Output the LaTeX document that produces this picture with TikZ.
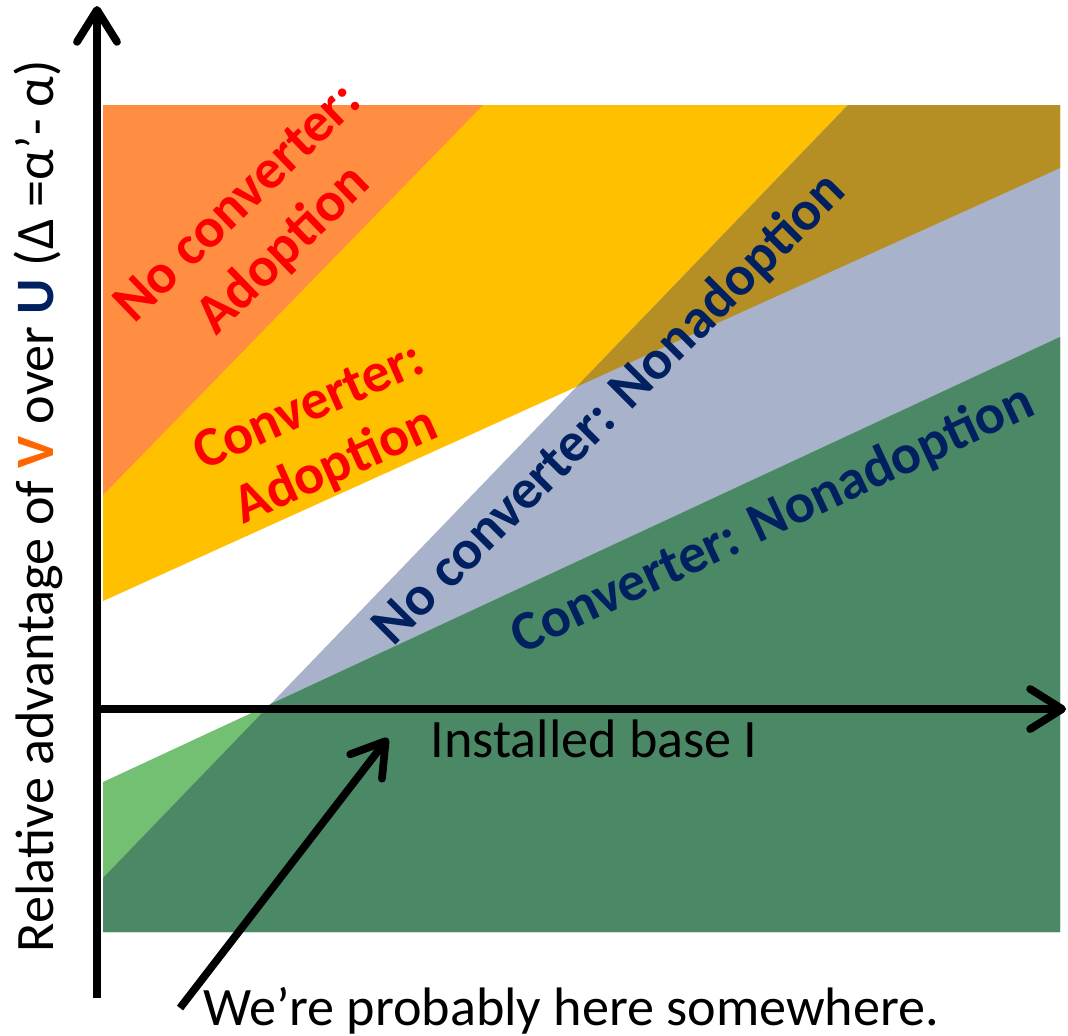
\documentclass[tikz,border=0pt]{standalone}
\usepackage{fontspec}
\setmainfont{Carlito}
\usetikzlibrary{arrows.meta}
\definecolor{noadopt}{RGB}{255,142,66}
\definecolor{adopt}{RGB}{255,192,0}
\definecolor{overlap}{RGB}{181,142,36}
\definecolor{nononadopt}{RGB}{168,178,202}
\definecolor{lightnon}{RGB}{115,192,115}
\definecolor{darknon}{RGB}{74,136,102}
\definecolor{redtext}{RGB}{255,0,0}
\definecolor{navytext}{RGB}{0,32,96}
\definecolor{vorange}{RGB}{255,102,0}
\tikzset{
  every node/.style={inner sep=0pt, font=\fontsize{15.4pt}{18.5pt}\selectfont},
  region/.style={bold, align=center},
  bold/.style={font=\fontsize{15.9pt}{18.6pt}\selectfont\bfseries},
  axis/.style={line width=2.2pt, -{Straight Barb[length=3.2mm,width=4mm,round]}},
}
\begin{document}
\begin{tikzpicture}[x=0.01cm, y=-0.01cm]
\useasboundingbox (0,0) rectangle (1068,1035);
% corners of the plot area
\coordinate (tl) at (103,105);
\coordinate (tr) at (1060,105);
\coordinate (bl) at (103,932);
\coordinate (br) at (1060,932);
% boundary lines
\coordinate (l1a) at (103,495);  \coordinate (l1b) at (483,105);
\coordinate (l2a) at (103,601);  \coordinate (l2b) at (1060,168);
\coordinate (l3a) at (103,878);  \coordinate (l3b) at (848,105);
\coordinate (l4a) at (103,782);  \coordinate (l4b) at (1060,337);
\coordinate (x23) at (intersection of l2a--l2b and l3a--l3b);
\coordinate (x34) at (intersection of l3a--l3b and l4a--l4b);

\fill[adopt] (tl) -- (tr) -- (l2b) -- (l2a) -- cycle;
\fill[noadopt] (tl) -- (l1b) -- (l1a) -- cycle;
\fill[nononadopt] (l3b) -- (tr) -- (br) -- (bl) -- (l3a) -- cycle;
\fill[overlap] (l3b) -- (tr) -- (l2b) -- (x23) -- cycle;
\fill[lightnon] (l4a) -- (l4b) -- (br) -- (bl) -- cycle;
\fill[darknon] (l3a) -- (x34) -- (l4b) -- (br) -- (bl) -- cycle;

\node[region, text=redtext, rotate=44] (ncadopt) at (262,228) {No converter:\\Adoption};
\node[region, text=redtext, rotate=24] (cadopt) at (323,438) {Converter:\\Adoption};
\node[region, text=navytext, rotate=45] (ncnon) at (610,410) {No converter: Nonadoption};
\node[region, text=navytext, rotate=25] (cnon) at (773,520) {Converter: Nonadoption};

% axes
\coordinate (ybot) at (97,998);
\coordinate (ytop) at (97,6);
\coordinate (xleft) at (97,709);
\coordinate (xright) at (1066,709);
\draw[axis] (ybot) -- (ytop);
\draw[axis] (xleft) -- (xright);

\node[rotate=90] (ylab) at (38,506) {Relative advantage of \textcolor{vorange}{\textbf{V}} over \textcolor{navytext}{\textbf{U}} (Δ =α'- α)};
\node[anchor=base west] (xlab) at (430,757) {Installed base I};
\node[anchor=base west] (note) at (203,1025) {We're probably here somewhere.};

\coordinate (tail) at (180,1008);
\coordinate (tip) at (388,738);
\draw[axis] (tail) -- (tip);
\end{tikzpicture}
\end{document}
